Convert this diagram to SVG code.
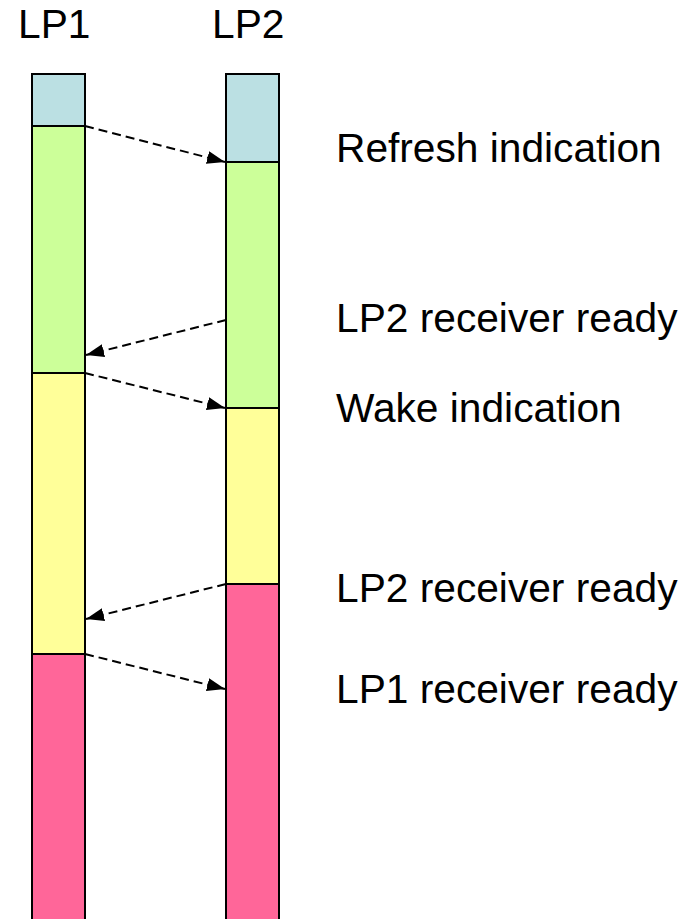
<svg xmlns="http://www.w3.org/2000/svg" width="689" height="919" viewBox="0 0 689 919">
<style>
.seg{stroke:#000;stroke-width:2}
.b{fill:#BBE0E3}.g{fill:#CCFF99}.y{fill:#FFFF99}.p{fill:#FF6699}
.lbl{font-family:"Liberation Sans",Arial,sans-serif;font-size:40.7px;fill:#000}
.conn line{stroke:#000;stroke-width:2;stroke-dasharray:9 5;marker-end:url(#ah)}
</style>
<defs>
<marker id="ah" viewBox="0 0 18 13" refX="18" refY="6.5" markerWidth="18" markerHeight="13" markerUnits="userSpaceOnUse" orient="auto">
<path d="M0,0 L18,6.5 L0,13 z" fill="#000"/>
</marker>
</defs>
<rect width="689" height="919" fill="#fff"/>
<g id="lp1">
<text class="lbl" x="18" y="38">LP1</text>
<rect class="seg b" x="32" y="74" width="53" height="52"/>
<rect class="seg g" x="32" y="126" width="53" height="247"/>
<rect class="seg y" x="32" y="373" width="53" height="281"/>
<rect class="seg p" x="32" y="654" width="53" height="280"/>
</g>
<g id="lp2">
<text class="lbl" x="212" y="38">LP2</text>
<rect class="seg b" x="226" y="74" width="53" height="88"/>
<rect class="seg g" x="226" y="162" width="53" height="246"/>
<rect class="seg y" x="226" y="408" width="53" height="176"/>
<rect class="seg p" x="226" y="584" width="53" height="350"/>
</g>
<g id="labels">
<text class="lbl" x="336" y="162">Refresh indication</text>
<text class="lbl" x="336" y="332">LP2 receiver ready</text>
<text class="lbl" x="336" y="422">Wake indication</text>
<text class="lbl" x="336" y="602">LP2 receiver ready</text>
<text class="lbl" x="336" y="703">LP1 receiver ready</text>
</g>
<g id="connectors" class="conn">
<line x1="85" y1="126" x2="225" y2="162"/>
<line x1="226" y1="320" x2="86" y2="355"/>
<line x1="85" y1="373" x2="225" y2="408"/>
<line x1="226" y1="584" x2="86" y2="619"/>
<line x1="85" y1="654" x2="225" y2="689"/>
</g>
</svg>
